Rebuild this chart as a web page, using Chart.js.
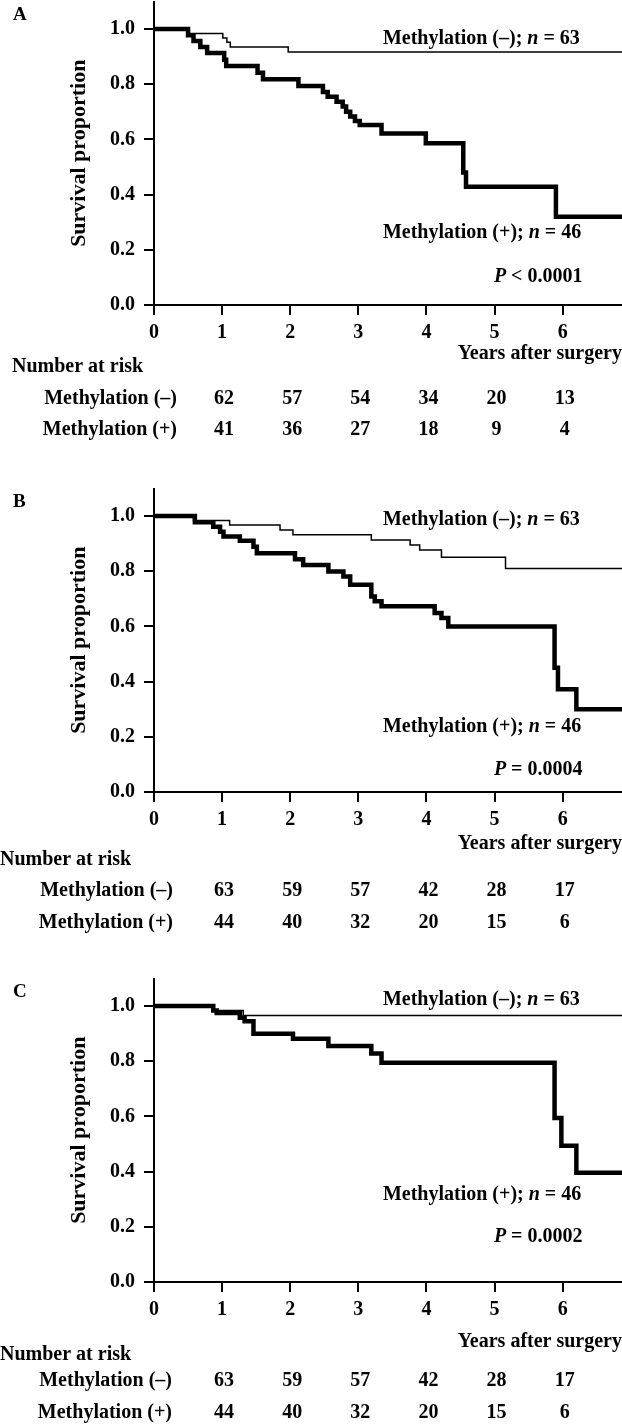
<!DOCTYPE html>
<html lang="en">
<head>
<meta charset="UTF-8" />
<title>Survival by methylation status</title>
<script src="https://cdn.jsdelivr.net/npm/chart.js"></script>
<style>
  body { margin: 0; background: #fff; width: 622px; height: 1425px; overflow: hidden; position: relative; }
  .panel { position: absolute; left: 0; width: 622px; height: 448px; }
</style>
</head>
<body>
<div class="panel" style="top:0px"><canvas id="chartA" width="622" height="448"></canvas></div>
<div class="panel" style="top:487px"><canvas id="chartB" width="622" height="448"></canvas></div>
<div class="panel" style="top:977px"><canvas id="chartC" width="622" height="448"></canvas></div>

<script>
// axes
const xTicks = [0, 1, 2, 3, 4, 5, 6];
const yTicks = [0, 0.2, 0.4, 0.6, 0.8, 1.0];
const xMax = 6.87;
const riskYears = [1, 2, 3, 4, 5, 6];

// panel A
const aNegTime = [0, 0.49, 1.01, 1.07, 1.12, 1.97, 6.87];
const aNegSurv = [1.0, 0.984, 0.968, 0.952, 0.935, 0.917, 0.917];
const aPosTime = [0, 0.50, 0.58, 0.68, 0.78, 1.03, 1.06, 1.52, 1.60, 2.12, 2.48, 2.55, 2.68, 2.77, 2.82, 2.88, 2.95, 3.02, 3.34, 3.99, 4.54, 4.58, 5.90, 6.87];
const aPosSurv = [1.0, 0.978, 0.957, 0.935, 0.913, 0.889, 0.866, 0.842, 0.818, 0.794, 0.772, 0.755, 0.737, 0.719, 0.700, 0.683, 0.667, 0.652, 0.622, 0.586, 0.480, 0.429, 0.320, 0.320];
const aRiskNeg = [62, 57, 54, 34, 20, 13];
const aRiskPos = [41, 36, 27, 18, 9, 4];

// panel B
const bNegTime = [0, 0.58, 1.11, 1.85, 2.04, 3.19, 3.76, 3.90, 4.22, 5.16, 6.87];
const bNegSurv = [1.0, 0.984, 0.968, 0.950, 0.932, 0.913, 0.895, 0.877, 0.851, 0.810, 0.810];
const bPosTime = [0, 0.60, 0.87, 0.97, 1.02, 1.26, 1.46, 1.51, 2.07, 2.19, 2.56, 2.78, 2.88, 3.19, 3.24, 3.34, 4.12, 4.22, 4.32, 5.88, 5.93, 6.20, 6.87];
const bPosSurv = [1.0, 0.978, 0.961, 0.943, 0.926, 0.911, 0.889, 0.865, 0.844, 0.823, 0.799, 0.781, 0.751, 0.709, 0.691, 0.673, 0.649, 0.631, 0.600, 0.450, 0.372, 0.300, 0.300];
const bRiskNeg = [63, 59, 57, 42, 28, 17];
const bRiskPos = [44, 40, 32, 20, 15, 6];

// panel C
const cNegTime = [0, 0.85, 1.31, 6.87];
const cNegSurv = [1.0, 0.984, 0.966, 0.966];
const cPosTime = [0, 0.87, 0.92, 1.26, 1.33, 1.46, 2.04, 2.56, 3.19, 3.34, 5.88, 5.98, 6.20, 6.87];
const cPosSurv = [1.0, 0.984, 0.975, 0.958, 0.945, 0.900, 0.882, 0.855, 0.828, 0.795, 0.594, 0.494, 0.396, 0.396];
const cRiskNeg = [63, 59, 57, 42, 28, 17];
const cRiskPos = [44, 40, 32, 20, 15, 6];

const FAMILY = '"Liberation Serif", "Times New Roman", serif';
const textFont = { family: FAMILY, size: 20, weight: 'bold' };

function drawRuns(ctx, runs, x, y, align) {
  const fonts = runs.map(r => (r[1] ? 'italic ' : '') + 'bold 20px ' + FAMILY);
  const widths = runs.map((r, i) => { ctx.font = fonts[i]; return ctx.measureText(r[0]).width; });
  const total = widths.reduce((a, b) => a + b, 0);
  let cx = align === 'right' ? x - total : x;
  ctx.textAlign = 'left';
  runs.forEach((r, i) => { ctx.font = fonts[i]; ctx.fillText(r[0], cx, y); cx += widths[i]; });
}

function makeChart(id, letter, negTime, negSurv, posTime, posSurv, riskNeg, riskPos, pRuns, lay) {
  const extras = {
    id: 'kmExtras' + letter,
    afterDraw(chart) {
      const ctx = chart.ctx;
      const xs = chart.scales.x, ys = chart.scales.y;
      ctx.save();
      ctx.fillStyle = '#000';
      ctx.textBaseline = 'middle';

      ctx.font = 'bold 19px ' + FAMILY;
      ctx.textAlign = 'left';
      ctx.fillText(letter, 13, 15);

      drawRuns(ctx, [['Methylation (\u2013); ', false], ['n', true], [' = 63', false]],
        xs.getPixelForValue(lay.labX), ys.getPixelForValue(lay.negY), 'left');
      drawRuns(ctx, [['Methylation (+); ', false], ['n', true], [' = 46', false]],
        xs.getPixelForValue(lay.labX), ys.getPixelForValue(lay.posY), 'left');
      drawRuns(ctx, pRuns, xs.getPixelForValue(lay.pX), ys.getPixelForValue(lay.pY), 'right');

      // number at risk table
      ctx.font = 'bold 20px ' + FAMILY;
      ctx.textAlign = 'left';
      ctx.fillText('Number at risk', lay.numX, lay.numY);
      ctx.textAlign = 'right';
      ctx.fillText('Methylation (\u2013)', lay.rowRight, lay.row1);
      ctx.fillText('Methylation (+)', lay.rowRight, lay.row2);
      ctx.textAlign = 'center';
      riskYears.forEach((yr, i) => {
        const px = xs.getPixelForValue(yr) + 2;
        ctx.fillText(String(riskNeg[i]), px, lay.row1);
        ctx.fillText(String(riskPos[i]), px, lay.row2);
      });
      ctx.restore();
    }
  };

  return new Chart(document.getElementById(id).getContext('2d'), {
    type: 'scatter',
    data: {
      datasets: [
        {
          label: 'Methylation (+)',
          data: posTime.map((t, i) => ({ x: t, y: posSurv[i] })),
          showLine: true, stepped: true, pointRadius: 0,
          borderColor: '#000', borderWidth: 4.5, borderJoinStyle: 'miter'
        },
        {
          label: 'Methylation (\u2013)',
          data: negTime.map((t, i) => ({ x: t, y: negSurv[i] })),
          showLine: true, stepped: true, pointRadius: 0,
          borderColor: '#000', borderWidth: 1.5, borderJoinStyle: 'miter'
        }
      ]
    },
    options: {
      responsive: false,
      animation: false,
      layout: { padding: { top: 1.5, left: 0, right: 0, bottom: 0 } },
      plugins: { legend: { display: false }, tooltip: { enabled: false } },
      scales: {
        x: {
          type: 'linear', min: 0, max: xMax,
          afterBuildTicks: s => { s.ticks = xTicks.map(v => ({ value: v })); },
          afterFit: s => { s.height = 143; s.paddingLeft = 0; s.paddingRight = 0; },
          border: { display: true, color: '#000', width: 2 },
          grid: { drawOnChartArea: false, drawTicks: true, tickLength: 10, color: '#000', lineWidth: 2 },
          ticks: { color: '#000', font: textFont, padding: 6, maxRotation: 0, autoSkip: false, callback: v => String(v) },
          title: { display: true, text: 'Years after surgery', align: 'end', color: '#000', font: textFont,
                   padding: { top: 0, bottom: lay.yearsPad } }
        },
        y: {
          type: 'linear', min: 0, max: 1.1,
          afterBuildTicks: s => { s.ticks = yTicks.map(v => ({ value: v })); },
          afterFit: s => { s.width = 154; s.paddingTop = 0; s.paddingBottom = 0; },
          border: { display: true, color: '#000', width: 2 },
          grid: { drawOnChartArea: false, drawTicks: true, tickLength: 10, color: '#000', lineWidth: 2 },
          ticks: { color: '#000', font: textFont, padding: 9, callback: v => v.toFixed(1) },
          title: { display: true, text: 'Survival proportion', color: '#000',
                   font: { family: FAMILY, size: 22, weight: 'bold' }, padding: { top: 66, bottom: 0 } }
        }
      }
    },
    plugins: [extras]
  });
}

makeChart('chartA', 'A', aNegTime, aNegSurv, aPosTime, aPosSurv, aRiskNeg, aRiskPos,
  [['P', true], [' < 0.0001', false]],
  { labX: 3.36, negY: 0.966, posY: 0.260, pX: 6.29, pY: 0.102,
    yearsPad: 82, numX: 12, numY: 367, rowRight: 177, row1: 399, row2: 430 });

makeChart('chartB', 'B', bNegTime, bNegSurv, bPosTime, bPosSurv, bRiskNeg, bRiskPos,
  [['P', true], [' = 0.0004', false]],
  { labX: 3.36, negY: 0.986, posY: 0.237, pX: 6.29, pY: 0.080,
    yearsPad: 79, numX: 0, numY: 373, rowRight: 173, row1: 404, row2: 436 });

makeChart('chartC', 'C', cNegTime, cNegSurv, cPosTime, cPosSurv, cRiskNeg, cRiskPos,
  [['P', true], [' = 0.0002', false]],
  { labX: 3.36, negY: 1.021, posY: 0.315, pX: 6.29, pY: 0.164,
    yearsPad: 71, numX: 0, numY: 378, rowRight: 172, row1: 404, row2: 436 });
</script>
</body>
</html>
